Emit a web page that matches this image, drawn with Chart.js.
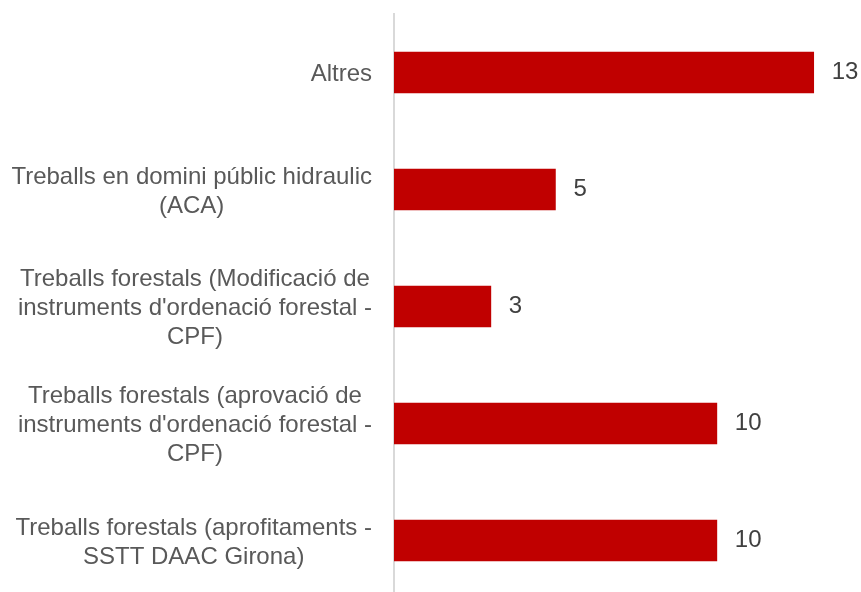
<!DOCTYPE html>
<html>
<head>
<meta charset="utf-8">
<script src="https://cdn.jsdelivr.net/npm/chart.js@4/dist/chart.umd.min.js"></script>
<style>
  html, body { margin: 0; padding: 0; background: #fff; overflow: hidden; }
  #wrap { width: 861px; height: 600px; }
</style>
</head>
<body>
<div id="wrap"><canvas id="chart" width="861" height="600"></canvas></div>
<script>
const categories = [
  'Altres',
  ['Treballs en domini públic hidraulic', '(ACA)'],
  ['Treballs forestals (Modificació de', "instruments d'ordenació forestal -", 'CPF)'],
  ['Treballs forestals (aprovació de', "instruments d'ordenació forestal -", 'CPF)'],
  ['Treballs forestals (aprofitaments -', 'SSTT DAAC Girona)'],
];
const values = [13, 5, 3, 10, 10];

const fontFamily = '"Liberation Sans", Arial, sans-serif';

// value labels at the end of each bar
const valueLabels = {
  id: 'valueLabels',
  afterDatasetsDraw(chart) {
    const ctx = chart.ctx;
    const meta = chart.getDatasetMeta(0);
    ctx.save();
    ctx.font = '24px ' + fontFamily;
    ctx.fillStyle = '#404040';
    ctx.textAlign = 'left';
    ctx.textBaseline = 'middle';
    meta.data.forEach((bar, i) => {
      ctx.fillText(String(values[i]), bar.x + 18, bar.y);
    });
    ctx.restore();
  },
};

// category labels: each block right-aligned near the axis, its lines centred
const categoryLabels = {
  id: 'categoryLabels',
  afterDraw(chart) {
    const ctx = chart.ctx;
    const yScale = chart.scales.y;
    const right = yScale.right - 22;
    const lineHeight = 29;
    ctx.save();
    ctx.font = '24px ' + fontFamily;
    ctx.fillStyle = '#595959';
    ctx.textAlign = 'center';
    ctx.textBaseline = 'middle';
    categories.forEach((label, i) => {
      const lines = Array.isArray(label) ? label : [label];
      const width = Math.max(...lines.map(l => ctx.measureText(l).width));
      const cx = right - width / 2;
      const cy = yScale.getPixelForTick(i) + 2;
      const top = cy - (lines.length - 1) * lineHeight / 2;
      lines.forEach((line, j) => ctx.fillText(line, cx, top + j * lineHeight));
    });
    ctx.restore();
  },
};

new Chart(document.getElementById('chart'), {
  type: 'bar',
  data: {
    labels: categories,
    datasets: [{
      data: values,
      backgroundColor: '#C00000',
      barThickness: 41,
    }],
  },
  options: {
    indexAxis: 'y',
    responsive: false,
    animation: false,
    layout: { padding: { top: 14, right: 15, bottom: 1, left: 0 } },
    plugins: {
      legend: { display: false },
      tooltip: { enabled: false },
    },
    scales: {
      x: {
        display: false,
        min: 0,
        max: 14,
      },
      y: {
        afterFit(scale) {
          scale.width = 394;
          scale.paddingTop = 0;
          scale.paddingBottom = 0;
        },
        grid: { display: false, drawTicks: false },
        border: { display: true, color: '#d9d9d9', width: 2 },
        ticks: { display: false, autoSkip: false },
      },
    },
  },
  plugins: [valueLabels, categoryLabels],
});
</script>
</body>
</html>
